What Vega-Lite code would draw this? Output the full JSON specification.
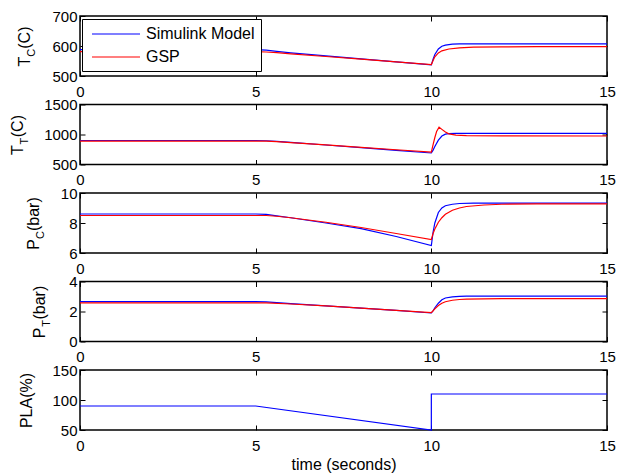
{
  "$schema": "https://vega.github.io/schema/vega-lite/v6.json",
  "autosize": {"type": "none"},
  "padding": {"left": 80, "top": 16, "right": 539, "bottom": 457},
  "background": "white",
  "bounds": "flush",
  "spacing": 28.5,
  "config": {
    "font": "Liberation Sans",
    "view": {"stroke": "black", "strokeWidth": 1.5},
    "axis": {
      "labelFont": "Liberation Sans",
      "labelFontSize": 15,
      "labelColor": "black",
      "labelFlush": false,
      "labelOverlap": false,
      "format": "d",
      "titleFont": "Liberation Sans",
      "titleFontSize": 16,
      "titleFontWeight": "normal",
      "titleColor": "black",
      "domain": false,
      "ticks": false,
      "tickSize": 0,
      "gridColor": "black",
      "gridOpacity": 1,
      "gridWidth": 1
    },
    "axisX": {"gridDash": [5, 50], "labelPadding": 20, "labelBaseline": "alphabetic"},
    "axisY": {"gridDash": [5, 517], "labelPadding": 3, "labelBaseline": "middle"},
    "line": {"strokeWidth": 1.2}
  },
  "datasets": {
    "TC": [
      {"time": 0, "model": "Simulink Model", "value": 588},
      {"time": 5, "model": "Simulink Model", "value": 588},
      {"time": 5.3, "model": "Simulink Model", "value": 586},
      {"time": 5.6, "model": "Simulink Model", "value": 582},
      {"time": 6, "model": "Simulink Model", "value": 577},
      {"time": 7, "model": "Simulink Model", "value": 567},
      {"time": 8, "model": "Simulink Model", "value": 557},
      {"time": 9, "model": "Simulink Model", "value": 547},
      {"time": 10, "model": "Simulink Model", "value": 537},
      {"time": 10.05, "model": "Simulink Model", "value": 556},
      {"time": 10.1, "model": "Simulink Model", "value": 572},
      {"time": 10.2, "model": "Simulink Model", "value": 590},
      {"time": 10.3, "model": "Simulink Model", "value": 599},
      {"time": 10.4, "model": "Simulink Model", "value": 603},
      {"time": 10.6, "model": "Simulink Model", "value": 606},
      {"time": 10.8, "model": "Simulink Model", "value": 607},
      {"time": 15, "model": "Simulink Model", "value": 607},
      {"time": 0, "model": "GSP", "value": 581},
      {"time": 5, "model": "GSP", "value": 581},
      {"time": 5.3, "model": "GSP", "value": 580},
      {"time": 5.6, "model": "GSP", "value": 578},
      {"time": 6, "model": "GSP", "value": 574},
      {"time": 7, "model": "GSP", "value": 565},
      {"time": 8, "model": "GSP", "value": 556},
      {"time": 9, "model": "GSP", "value": 547},
      {"time": 10, "model": "GSP", "value": 538},
      {"time": 10.05, "model": "GSP", "value": 552},
      {"time": 10.1, "model": "GSP", "value": 564},
      {"time": 10.2, "model": "GSP", "value": 577},
      {"time": 10.3, "model": "GSP", "value": 584},
      {"time": 10.5, "model": "GSP", "value": 590},
      {"time": 10.8, "model": "GSP", "value": 594},
      {"time": 11.2, "model": "GSP", "value": 596},
      {"time": 12, "model": "GSP", "value": 597},
      {"time": 13, "model": "GSP", "value": 598},
      {"time": 15, "model": "GSP", "value": 598}
    ],
    "TT": [
      {"time": 0, "model": "Simulink Model", "value": 900},
      {"time": 5, "model": "Simulink Model", "value": 900},
      {"time": 5.3, "model": "Simulink Model", "value": 896},
      {"time": 5.6, "model": "Simulink Model", "value": 885},
      {"time": 6, "model": "Simulink Model", "value": 868},
      {"time": 7, "model": "Simulink Model", "value": 825},
      {"time": 8, "model": "Simulink Model", "value": 781},
      {"time": 9, "model": "Simulink Model", "value": 737},
      {"time": 10, "model": "Simulink Model", "value": 692},
      {"time": 10.05, "model": "Simulink Model", "value": 740},
      {"time": 10.1, "model": "Simulink Model", "value": 800},
      {"time": 10.2, "model": "Simulink Model", "value": 905},
      {"time": 10.3, "model": "Simulink Model", "value": 975},
      {"time": 10.4, "model": "Simulink Model", "value": 1005},
      {"time": 10.5, "model": "Simulink Model", "value": 1015},
      {"time": 10.7, "model": "Simulink Model", "value": 1020},
      {"time": 15, "model": "Simulink Model", "value": 1020},
      {"time": 0, "model": "GSP", "value": 890},
      {"time": 5, "model": "GSP", "value": 890},
      {"time": 5.3, "model": "GSP", "value": 888},
      {"time": 5.6, "model": "GSP", "value": 880},
      {"time": 6, "model": "GSP", "value": 866},
      {"time": 7, "model": "GSP", "value": 826},
      {"time": 8, "model": "GSP", "value": 786},
      {"time": 9, "model": "GSP", "value": 746},
      {"time": 10, "model": "GSP", "value": 706},
      {"time": 10.05, "model": "GSP", "value": 830},
      {"time": 10.1, "model": "GSP", "value": 950},
      {"time": 10.15, "model": "GSP", "value": 1050},
      {"time": 10.22, "model": "GSP", "value": 1122},
      {"time": 10.3, "model": "GSP", "value": 1085},
      {"time": 10.4, "model": "GSP", "value": 1040},
      {"time": 10.5, "model": "GSP", "value": 1010},
      {"time": 10.7, "model": "GSP", "value": 990},
      {"time": 11, "model": "GSP", "value": 980},
      {"time": 12, "model": "GSP", "value": 976},
      {"time": 15, "model": "GSP", "value": 975}
    ],
    "PC": [
      {"time": 0, "model": "Simulink Model", "value": 8.6},
      {"time": 5, "model": "Simulink Model", "value": 8.6},
      {"time": 5.3, "model": "Simulink Model", "value": 8.57},
      {"time": 5.6, "model": "Simulink Model", "value": 8.48},
      {"time": 6, "model": "Simulink Model", "value": 8.35},
      {"time": 7, "model": "Simulink Model", "value": 8.0},
      {"time": 8, "model": "Simulink Model", "value": 7.62},
      {"time": 9, "model": "Simulink Model", "value": 7.1},
      {"time": 10, "model": "Simulink Model", "value": 6.5},
      {"time": 10.05, "model": "Simulink Model", "value": 7.4},
      {"time": 10.1, "model": "Simulink Model", "value": 8.0},
      {"time": 10.2, "model": "Simulink Model", "value": 8.7},
      {"time": 10.3, "model": "Simulink Model", "value": 9.0},
      {"time": 10.4, "model": "Simulink Model", "value": 9.15},
      {"time": 10.6, "model": "Simulink Model", "value": 9.25},
      {"time": 10.8, "model": "Simulink Model", "value": 9.3},
      {"time": 11.2, "model": "Simulink Model", "value": 9.32},
      {"time": 15, "model": "Simulink Model", "value": 9.32},
      {"time": 0, "model": "GSP", "value": 8.5},
      {"time": 5, "model": "GSP", "value": 8.5},
      {"time": 5.3, "model": "GSP", "value": 8.5},
      {"time": 5.6, "model": "GSP", "value": 8.45},
      {"time": 6, "model": "GSP", "value": 8.35},
      {"time": 7, "model": "GSP", "value": 8.05},
      {"time": 8, "model": "GSP", "value": 7.7},
      {"time": 9, "model": "GSP", "value": 7.3},
      {"time": 10, "model": "GSP", "value": 6.9},
      {"time": 10.05, "model": "GSP", "value": 7.3},
      {"time": 10.1, "model": "GSP", "value": 7.6},
      {"time": 10.2, "model": "GSP", "value": 8.05},
      {"time": 10.3, "model": "GSP", "value": 8.35},
      {"time": 10.4, "model": "GSP", "value": 8.58},
      {"time": 10.6, "model": "GSP", "value": 8.85},
      {"time": 10.8, "model": "GSP", "value": 9.0},
      {"time": 11, "model": "GSP", "value": 9.1},
      {"time": 11.5, "model": "GSP", "value": 9.2},
      {"time": 12, "model": "GSP", "value": 9.25},
      {"time": 13, "model": "GSP", "value": 9.28},
      {"time": 15, "model": "GSP", "value": 9.28}
    ],
    "PT": [
      {"time": 0, "model": "Simulink Model", "value": 2.66},
      {"time": 5, "model": "Simulink Model", "value": 2.66},
      {"time": 5.3, "model": "Simulink Model", "value": 2.64},
      {"time": 6, "model": "Simulink Model", "value": 2.52},
      {"time": 7, "model": "Simulink Model", "value": 2.37},
      {"time": 8, "model": "Simulink Model", "value": 2.22},
      {"time": 9, "model": "Simulink Model", "value": 2.07},
      {"time": 10, "model": "Simulink Model", "value": 1.9},
      {"time": 10.05, "model": "Simulink Model", "value": 2.05},
      {"time": 10.1, "model": "Simulink Model", "value": 2.25},
      {"time": 10.2, "model": "Simulink Model", "value": 2.55},
      {"time": 10.3, "model": "Simulink Model", "value": 2.78},
      {"time": 10.4, "model": "Simulink Model", "value": 2.9},
      {"time": 10.6, "model": "Simulink Model", "value": 2.98},
      {"time": 10.8, "model": "Simulink Model", "value": 3.01},
      {"time": 11, "model": "Simulink Model", "value": 3.02},
      {"time": 15, "model": "Simulink Model", "value": 3.02},
      {"time": 0, "model": "GSP", "value": 2.57},
      {"time": 5, "model": "GSP", "value": 2.57},
      {"time": 5.3, "model": "GSP", "value": 2.57},
      {"time": 6, "model": "GSP", "value": 2.5},
      {"time": 7, "model": "GSP", "value": 2.37},
      {"time": 8, "model": "GSP", "value": 2.23},
      {"time": 9, "model": "GSP", "value": 2.08},
      {"time": 10, "model": "GSP", "value": 1.93},
      {"time": 10.05, "model": "GSP", "value": 2.05},
      {"time": 10.1, "model": "GSP", "value": 2.18},
      {"time": 10.2, "model": "GSP", "value": 2.4},
      {"time": 10.3, "model": "GSP", "value": 2.55},
      {"time": 10.4, "model": "GSP", "value": 2.65},
      {"time": 10.6, "model": "GSP", "value": 2.75},
      {"time": 10.8, "model": "GSP", "value": 2.8},
      {"time": 11, "model": "GSP", "value": 2.83},
      {"time": 12, "model": "GSP", "value": 2.86},
      {"time": 15, "model": "GSP", "value": 2.86}
    ],
    "PLA": [
      {"time": 0, "value": 90},
      {"time": 5, "value": 90},
      {"time": 10, "value": 50},
      {"time": 10, "value": 110},
      {"time": 15, "value": 110}
    ]
  },
  "resolve": {"scale": {"color": "independent"}, "legend": {"color": "independent"}},
  "vconcat": [
    {
      "width": 527,
      "height": 60,
      "data": {"name": "TC"},
      "encoding": {
        "x": {"field": "time", "type": "quantitative", "scale": {"domain": [0, 15], "nice": false}, "axis": {"values": [0, 5, 10, 15], "title": null, "grid": true}},
        "color": {
          "field": "model", "type": "nominal",
          "scale": {"domain": ["Simulink Model", "GSP"], "range": ["#0000ff", "#ff0000"]},
          "legend": {
            "title": null, "orient": "none", "legendX": 2, "legendY": 3,
            "fillColor": "white", "strokeColor": "black", "cornerRadius": 0,
            "padding": 6, "symbolOffset": 3, "symbolType": "M-1,0H5", "symbolSize": 256,
            "symbolStrokeWidth": 1.2, "symbolFillColor": "transparent",
            "labelFontSize": 16, "labelOffset": 37, "rowPadding": 6,
            "labelColor": "black", "labelFont": "Liberation Sans"
          }
        }
      },
      "layer": [
        {
          "transform": [{"filter": "datum.model === 'Simulink Model'"}],
          "mark": {"type": "line"},
          "encoding": {"y": {"field": "value", "type": "quantitative", "scale": {"domain": [500, 700], "nice": false, "zero": false},
            "axis": {"values": [500, 600, 700], "grid": true, "title": "T\u2002(C)", "titleAngle": -90, "titleAlign": "center", "titleBaseline": "alphabetic", "titleX": -51, "titleY": 30}}}
        },
        {
          "transform": [{"filter": "datum.model === 'GSP'"}],
          "mark": {"type": "line"},
          "encoding": {"y": {"field": "value", "type": "quantitative",
            "axis": {"orient": "left", "labels": false, "grid": false, "title": "C", "titleFontSize": 11, "titleAngle": -90, "titleAlign": "center", "titleBaseline": "alphabetic", "titleX": -46, "titleY": 36.2}}}
        }
      ],
      "resolve": {"axis": {"y": "independent"}}
    },
    {
      "width": 527,
      "height": 60,
      "data": {"name": "TT"},
      "encoding": {
        "x": {"field": "time", "type": "quantitative", "scale": {"domain": [0, 15], "nice": false}, "axis": {"values": [0, 5, 10, 15], "title": null, "grid": true}},
        "color": {"field": "model", "type": "nominal", "scale": {"domain": ["Simulink Model", "GSP"], "range": ["#0000ff", "#ff0000"]}, "legend": null}
      },
      "layer": [
        {
          "transform": [{"filter": "datum.model === 'Simulink Model'"}],
          "mark": {"type": "line"},
          "encoding": {"y": {"field": "value", "type": "quantitative", "scale": {"domain": [500, 1500], "nice": false, "zero": false},
            "axis": {"values": [500, 1000, 1500], "grid": true, "title": "T\u2002(C)", "titleAngle": -90, "titleAlign": "center", "titleBaseline": "alphabetic", "titleX": -57.5, "titleY": 30}}}
        },
        {
          "transform": [{"filter": "datum.model === 'GSP'"}],
          "mark": {"type": "line"},
          "encoding": {"y": {"field": "value", "type": "quantitative",
            "axis": {"orient": "left", "labels": false, "grid": false, "title": "T", "titleFontSize": 11, "titleAngle": -90, "titleAlign": "center", "titleBaseline": "alphabetic", "titleX": -52.5, "titleY": 36.2}}}
        }
      ],
      "resolve": {"axis": {"y": "independent"}}
    },
    {
      "width": 527,
      "height": 60,
      "data": {"name": "PC"},
      "encoding": {
        "x": {"field": "time", "type": "quantitative", "scale": {"domain": [0, 15], "nice": false}, "axis": {"values": [0, 5, 10, 15], "title": null, "grid": true}},
        "color": {"field": "model", "type": "nominal", "scale": {"domain": ["Simulink Model", "GSP"], "range": ["#0000ff", "#ff0000"]}, "legend": null}
      },
      "layer": [
        {
          "transform": [{"filter": "datum.model === 'Simulink Model'"}],
          "mark": {"type": "line"},
          "encoding": {"y": {"field": "value", "type": "quantitative", "scale": {"domain": [6, 10], "nice": false, "zero": false},
            "axis": {"values": [6, 8, 10], "grid": true, "title": "P\u2002(bar)", "titleAngle": -90, "titleAlign": "center", "titleBaseline": "alphabetic", "titleX": -41.5, "titleY": 30}}}
        },
        {
          "transform": [{"filter": "datum.model === 'GSP'"}],
          "mark": {"type": "line"},
          "encoding": {"y": {"field": "value", "type": "quantitative",
            "axis": {"orient": "left", "labels": false, "grid": false, "title": "C", "titleFontSize": 11, "titleAngle": -90, "titleAlign": "center", "titleBaseline": "alphabetic", "titleX": -36.5, "titleY": 41.5}}}
        }
      ],
      "resolve": {"axis": {"y": "independent"}}
    },
    {
      "width": 527,
      "height": 60,
      "data": {"name": "PT"},
      "encoding": {
        "x": {"field": "time", "type": "quantitative", "scale": {"domain": [0, 15], "nice": false}, "axis": {"values": [0, 5, 10, 15], "title": null, "grid": true}},
        "color": {"field": "model", "type": "nominal", "scale": {"domain": ["Simulink Model", "GSP"], "range": ["#0000ff", "#ff0000"]}, "legend": null}
      },
      "layer": [
        {
          "transform": [{"filter": "datum.model === 'Simulink Model'"}],
          "mark": {"type": "line"},
          "encoding": {"y": {"field": "value", "type": "quantitative", "scale": {"domain": [0, 4], "nice": false, "zero": false},
            "axis": {"values": [0, 2, 4], "grid": true, "title": "P\u2002(bar)", "titleAngle": -90, "titleAlign": "center", "titleBaseline": "alphabetic", "titleX": -35.5, "titleY": 30}}}
        },
        {
          "transform": [{"filter": "datum.model === 'GSP'"}],
          "mark": {"type": "line"},
          "encoding": {"y": {"field": "value", "type": "quantitative",
            "axis": {"orient": "left", "labels": false, "grid": false, "title": "T", "titleFontSize": 11, "titleAngle": -90, "titleAlign": "center", "titleBaseline": "alphabetic", "titleX": -30.5, "titleY": 41.5}}}
        }
      ],
      "resolve": {"axis": {"y": "independent"}}
    },
    {
      "width": 527,
      "height": 60,
      "data": {"name": "PLA"},
      "mark": {"type": "line", "color": "#0000ff"},
      "encoding": {
        "x": {"field": "time", "type": "quantitative", "scale": {"domain": [0, 15], "nice": false},
          "axis": {"values": [0, 5, 10, 15], "grid": true, "title": "time (seconds)", "titleBaseline": "alphabetic", "titleY": 39}},
        "y": {"field": "value", "type": "quantitative", "scale": {"domain": [50, 150], "nice": false, "zero": false},
          "axis": {"values": [50, 100, 150], "grid": true, "title": "PLA(%)", "titleAngle": -90, "titleAlign": "center", "titleBaseline": "alphabetic", "titleX": -49, "titleY": 30}}
      }
    }
  ]
}
